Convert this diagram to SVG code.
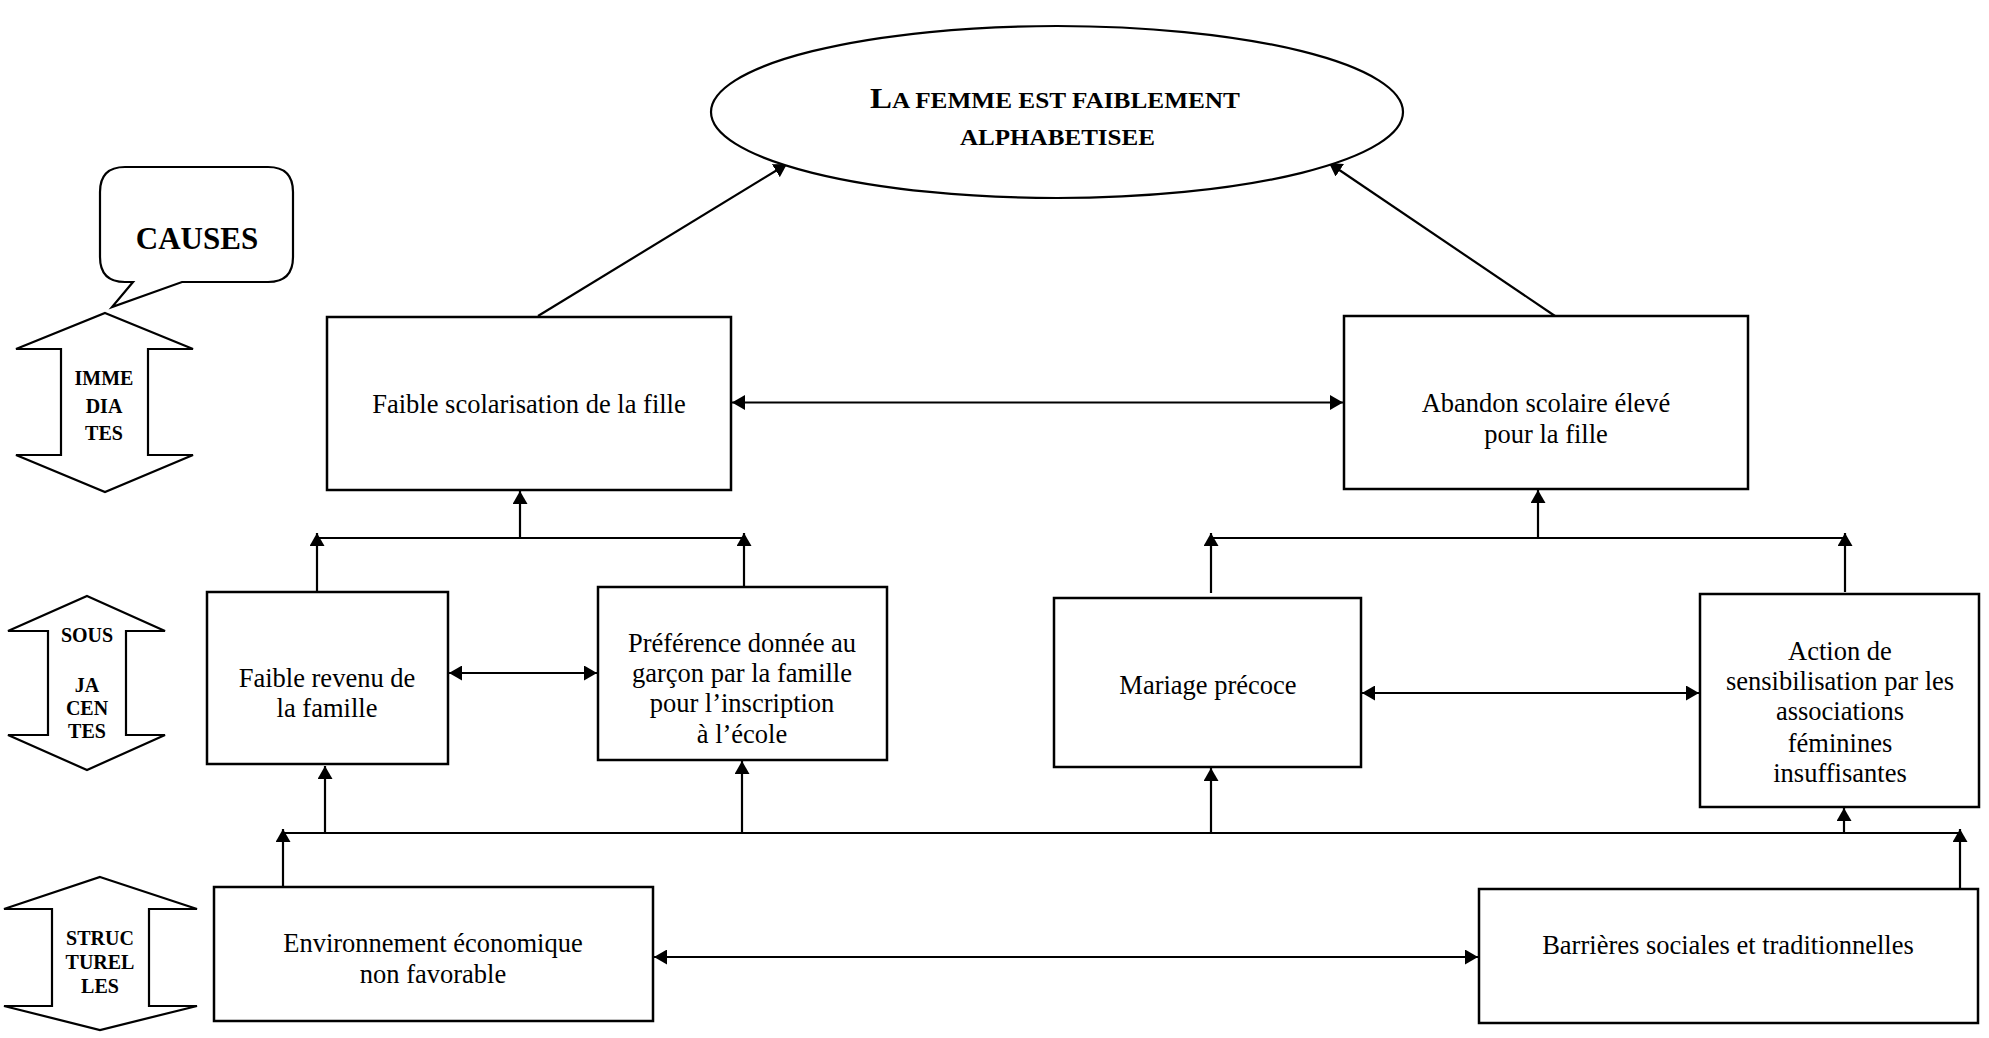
<svg xmlns="http://www.w3.org/2000/svg" width="1989" height="1038" viewBox="0 0 1989 1038">
<defs>
<style>
.box{fill:#fff;stroke:#000;stroke-width:2.5}
.shape{fill:#fff;stroke:#000;stroke-width:2.2}
.t{font-family:"Liberation Serif","Times New Roman",serif;font-size:26.5px;fill:#000;text-anchor:middle}
.lb{font-family:"Liberation Serif","Times New Roman",serif;font-size:20px;font-weight:bold;fill:#000;text-anchor:middle}
.title{font-family:"Liberation Serif","Times New Roman",serif;font-weight:bold;fill:#000;text-anchor:middle}
.c{stroke:#000;stroke-width:2.2;fill:none}
.a{marker-end:url(#ah)}
.d{marker-start:url(#ah);marker-end:url(#ah)}
</style>
<marker id="ah" viewBox="0 0 13 15" refX="13" refY="7.5" markerWidth="13" markerHeight="15" markerUnits="userSpaceOnUse" orient="auto-start-reverse">
<path d="M0,0 L13,7.5 L0,15 z" fill="#000"/>
</marker>
</defs>
<rect width="1989" height="1038" fill="#fff"/>

<g id="causes">
<path class="shape" d="M125,167 H268 Q293,167 293,192 V257 Q293,282 268,282 H182 L112,307 L133,282 H125 Q100,282 100,257 V192 Q100,167 125,167 Z"/>
<text class="title" x="197" y="249" font-size="31">CAUSES</text>
</g>

<g id="immediates">
<polygon class="shape" points="105,313 193,349 148,349 148,455 193,455 105,492 16,455 61,455 61,349 16,349"/>
<text class="lb" x="104" y="385">IMME</text>
<text class="lb" x="104" y="413">DIA</text>
<text class="lb" x="104" y="440">TES</text>
</g>

<g id="sousjacentes">
<polygon class="shape" points="87,596 165,631 126,631 126,735 165,735 87,770 8,735 48,735 48,631 8,631"/>
<text class="lb" x="87" y="642">SOUS</text>
<text class="lb" x="87" y="692">JA</text>
<text class="lb" x="87" y="715">CEN</text>
<text class="lb" x="87" y="738">TES</text>
</g>

<g id="structurelles">
<polygon class="shape" points="100,877 197,909 149,909 149,1006 197,1006 100,1030 4,1006 52,1006 52,909 4,909"/>
<text class="lb" x="100" y="945">STRUC</text>
<text class="lb" x="100" y="969">TUREL</text>
<text class="lb" x="100" y="993">LES</text>
</g>

<g id="connectors">
<line class="c a" x1="538" y1="316" x2="787" y2="164"/>
<line class="c a" x1="1555" y1="316" x2="1329" y2="163"/>
<line class="c d" x1="732" y1="402.5" x2="1343" y2="402.5"/>

<line class="c a" x1="317" y1="591" x2="317" y2="533"/>
<line class="c" x1="317" y1="538" x2="744" y2="538"/>
<line class="c a" x1="744" y1="586" x2="744" y2="533"/>
<line class="c a" x1="520" y1="538" x2="520" y2="491"/>
<line class="c d" x1="449" y1="673" x2="597" y2="673"/>

<line class="c a" x1="1211" y1="593" x2="1211" y2="533"/>
<line class="c" x1="1211" y1="538" x2="1845" y2="538"/>
<line class="c a" x1="1845" y1="592" x2="1845" y2="533"/>
<line class="c a" x1="1538" y1="538" x2="1538" y2="490"/>
<line class="c d" x1="1362" y1="693" x2="1699" y2="693"/>

<line class="c" x1="283" y1="833" x2="1960" y2="833"/>
<line class="c a" x1="283" y1="887" x2="283" y2="829"/>
<line class="c a" x1="1960" y1="889" x2="1960" y2="829"/>
<line class="c a" x1="325" y1="833" x2="325" y2="766"/>
<line class="c a" x1="742" y1="833" x2="742" y2="761"/>
<line class="c a" x1="1211" y1="833" x2="1211" y2="768"/>
<line class="c a" x1="1844" y1="833" x2="1844" y2="808"/>
<line class="c d" x1="654" y1="957" x2="1478" y2="957"/>
</g>

<g id="goal">
<ellipse class="shape" cx="1057" cy="112" rx="346" ry="86"/>
<text class="title" x="1055" y="108" textLength="370" lengthAdjust="spacingAndGlyphs"><tspan font-size="30">L</tspan><tspan font-size="23">A FEMME EST FAIBLEMENT</tspan></text>
<text class="title" x="1057.5" y="145" font-size="23" textLength="195" lengthAdjust="spacingAndGlyphs">ALPHABETISEE</text>
</g>

<g id="faible-scolarisation">
<rect class="box" x="327" y="317" width="404" height="173"/>
<text class="t" x="529" y="413">Faible scolarisation de la fille</text>
</g>

<g id="abandon-scolaire">
<rect class="box" x="1344" y="316" width="404" height="173"/>
<text class="t" x="1546" y="412">Abandon scolaire élevé</text>
<text class="t" x="1546" y="443">pour la fille</text>
</g>

<g id="faible-revenu">
<rect class="box" x="207" y="592" width="241" height="172"/>
<text class="t" x="327" y="687">Faible revenu de</text>
<text class="t" x="327" y="717">la famille</text>
</g>

<g id="preference-garcon">
<rect class="box" x="598" y="587" width="289" height="173"/>
<text class="t" x="742" y="652">Préférence donnée au</text>
<text class="t" x="742" y="682">garçon par la famille</text>
<text class="t" x="742" y="712">pour l’inscription</text>
<text class="t" x="742" y="743">à l’école</text>
</g>

<g id="mariage-precoce">
<rect class="box" x="1054" y="598" width="307" height="169"/>
<text class="t" x="1208" y="694">Mariage précoce</text>
</g>

<g id="action-sensibilisation">
<rect class="box" x="1700" y="594" width="279" height="213"/>
<text class="t" x="1840" y="660">Action de</text>
<text class="t" x="1840" y="690">sensibilisation par les</text>
<text class="t" x="1840" y="720">associations</text>
<text class="t" x="1840" y="752">féminines</text>
<text class="t" x="1840" y="782">insuffisantes</text>
</g>

<g id="environnement">
<rect class="box" x="214" y="887" width="439" height="134"/>
<text class="t" x="433" y="952">Environnement économique</text>
<text class="t" x="433" y="983">non favorable</text>
</g>

<g id="barrieres">
<rect class="box" x="1479" y="889" width="499" height="134"/>
<text class="t" x="1728" y="954">Barrières sociales et traditionnelles</text>
</g>
</svg>
